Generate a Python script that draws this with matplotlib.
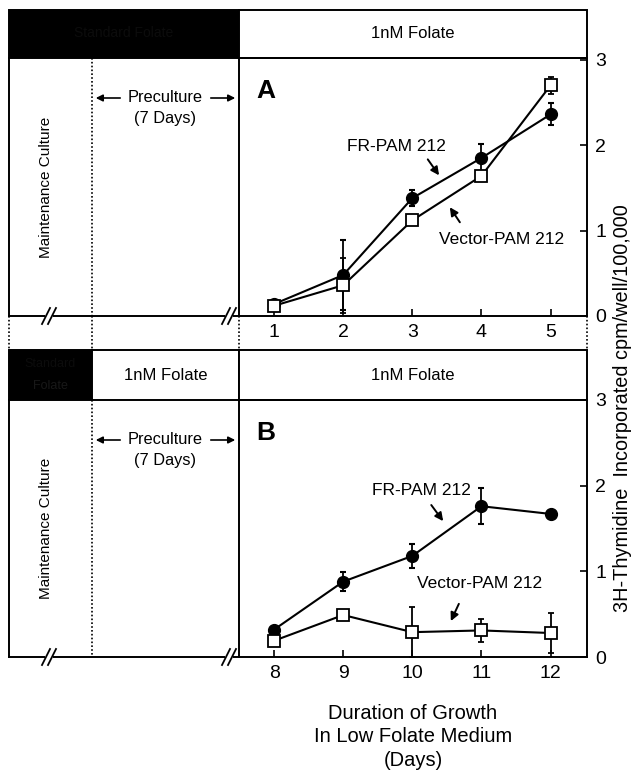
import matplotlib
matplotlib.use("Agg")
import matplotlib.pyplot as plt
from matplotlib.patches import Rectangle

plt.rcParams['font.family'] = ['Liberation Sans', 'DejaVu Sans']

# ---------------- data ----------------
days_a = [1, 2, 3, 4, 5]
fr_a = [0.14, 0.48, 1.38, 1.85, 2.36]
fr_a_err = [0.05, 0.41, 0.09, 0.16, 0.13]
vec_a = [0.12, 0.36, 1.12, 1.64, 2.70]
vec_a_err = [0.03, 0.32, 0.03, 0.05, 0.10]

days_b = [8, 9, 10, 11, 12]
fr_b = [0.32, 0.88, 1.18, 1.76, 1.67]
fr_b_err = [0.02, 0.11, 0.14, 0.21, 0.04]
vec_b = [0.19, 0.49, 0.29, 0.31, 0.28]
vec_b_err = [0.02, 0.02, 0.29, 0.13, 0.23]

yticks = [0, 1, 2, 3]
header_text = "1nM Folate"
series_labels = ["FR-PAM 212", "Vector-PAM 212"]
ylabel = "3H-Thymidine  Incorporated cpm/well/100,000"
xlabel = "Duration of Growth\nIn Low Folate Medium\n(Days)"

W, H = 637, 777
fig = plt.figure(figsize=(W / 100, H / 100), dpi=100)

# overlay in pixel coords
ov = fig.add_axes([0, 0, 1, 1])
ov.set_xlim(0, W)
ov.set_ylim(H, 0)
ov.axis('off')

LW = 1.4
DOT = (0, (1, 1.3))
XL, XM, XR, XE = 9, 92, 239, 587


def box(x0, y0, x1, y1, fc):
    ov.add_patch(Rectangle((x0, y0), x1 - x0, y1 - y0, facecolor=fc,
                           edgecolor='black', lw=LW))


def breaks(y):
    for xb in (49, 229):
        ov.add_patch(Rectangle((xb - 4, y - 2), 8, 4, facecolor='white', edgecolor='none', zorder=1))
        for dx in (-3, 3):
            ov.plot([xb + dx - 4, xb + dx + 4], [y + 8, y - 8], color='black', lw=1.3, zorder=2)


def left_panel(top, bottom):
    ov.plot([XL, XL], [top, bottom], color='black', lw=LW)
    ov.plot([XL, XR], [bottom, bottom], color='black', lw=LW, zorder=0.5)
    ov.plot([XM, XM], [top, bottom], color='black', lw=1.2, ls=DOT)
    breaks(bottom)
    yc = (top + bottom) / 2
    ov.text(46, yc, "Maintenance Culture", rotation=90, ha='center', va='center', fontsize=11)
    ov.text(165, top + 40, "Preculture", ha='center', va='center', fontsize=11.8)
    ov.text(165, top + 61, "(7 Days)", ha='center', va='center', fontsize=11.8)
    ov.annotate("", xy=(XM + 1, top + 40), xytext=(123, top + 40),
                arrowprops=dict(arrowstyle='-|>', color='black', lw=1.2, mutation_scale=10))
    ov.annotate("", xy=(XR - 1, top + 40), xytext=(208, top + 40),
                arrowprops=dict(arrowstyle='-|>', color='black', lw=1.2, mutation_scale=10))


# panel A header
A_top, A_bot = 58, 316
box(XL, 10, XR, A_top, 'black')
ov.text((XL + XR) / 2, 33, "Standard Folate", ha='center', va='center', fontsize=10, color='#0c0c0c')
box(XR, 10, XE, A_top, 'white')
ov.text((XR + XE) / 2, 34, header_text, ha='center', va='center', fontsize=12)
left_panel(A_top, A_bot)

# panel B header
B_hdr, B_top, B_bot = 350, 400, 657
box(XL, B_hdr, XM, B_top, 'black')
ov.text((XL + XM) / 2, 364, "Standard", ha='center', va='center', fontsize=9, color='#0c0c0c')
ov.text((XL + XM) / 2, 386, "Folate", ha='center', va='center', fontsize=9, color='#181818')
box(XM, B_hdr, XR, B_top, 'white')
ov.text((XM + XR) / 2, 375, header_text, ha='center', va='center', fontsize=12)
box(XR, B_hdr, XE, B_top, 'white')
ov.text((XR + XE) / 2, 375, header_text, ha='center', va='center', fontsize=12)
left_panel(B_top, B_bot)

# dotted connectors between panels
for xd in (XL, XM, XR, XE):
    ov.plot([xd, xd], [A_bot, B_hdr], color='black', lw=1.2, ls=DOT)


def data_axes(top, bottom, days, fr, fre, vec, vece, xlim, ylim, letter, ann):
    ax = fig.add_axes([XR / W, 1 - bottom / H, (XE - XR) / W, (bottom - top) / H])
    ax.patch.set_alpha(0)
    ax.errorbar(days, fr, yerr=fre, color='black', lw=1.5, marker='o', ms=8.5,
                mfc='black', mec='black', capsize=2.5, elinewidth=1.3, capthick=1.5, zorder=3)
    ax.errorbar(days, vec, yerr=vece, color='black', lw=1.5, marker='s', ms=8,
                mfc='white', mec='black', mew=1.3, capsize=2.5, elinewidth=1.3, capthick=1.5, zorder=4)
    ax.set_xlim(*xlim)
    ax.set_ylim(*ylim)
    ax.set_xticks(days)
    ax.set_yticks(yticks)
    ax.yaxis.tick_right()
    ax.tick_params(axis='both', direction='in', length=5, width=1.2, labelsize=14)
    ax.tick_params(axis='y', pad=6)
    ax.tick_params(axis='x', pad=6)
    for s in ax.spines.values():
        s.set_linewidth(LW)
    ax.text(0.05, 0.92, letter, transform=ax.transAxes, fontsize=19, fontweight='bold',
            ha='left', va='top')
    for txt, tx, ty, ax0, ay0, ax1, ay1 in ann:
        ax.text(tx, ty, txt, ha='center', va='center', fontsize=12.5)
        ax.annotate("", xy=(ax1, ay1), xytext=(ax0, ay0),
                    arrowprops=dict(arrowstyle='-|>', color='black', lw=1.4, mutation_scale=12))
    return ax


axA = data_axes(A_top, A_bot, days_a, fr_a, fr_a_err, vec_a, vec_a_err,
                (0.492, 5.527), (0, 3.02), "A",
                [(series_labels[0], 2.77, 1.98, 3.20, 1.86, 3.41, 1.62),
                 (series_labels[1], 4.29, 0.90, 3.71, 1.07, 3.52, 1.30)])
axB = data_axes(B_top, B_bot, days_b, fr_b, fr_b_err, vec_b, vec_b_err,
                (7.492, 12.527), (0, 3.0), "B",
                [(series_labels[0], 10.13, 1.94, 10.25, 1.80, 10.47, 1.56),
                 (series_labels[1], 10.97, 0.86, 10.69, 0.65, 10.54, 0.39)])

fig.text(623 / W, 1 - 408 / H, ylabel, rotation=90, ha='center', va='center', fontsize=14.3)
fig.text(413 / W, 1 - 737 / H, xlabel, ha='center', va='center', fontsize=14.5, linespacing=1.3)

fig.savefig("out.png", dpi=100)
